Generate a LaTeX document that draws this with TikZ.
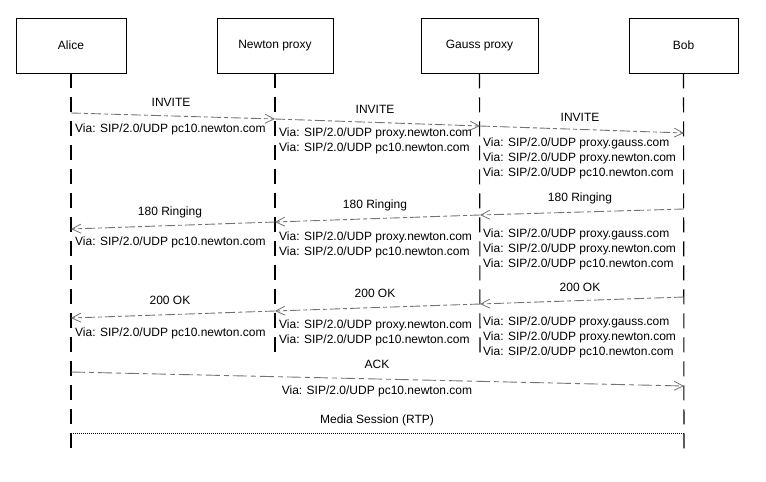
\documentclass[tikz,border=0pt]{standalone}
\usepackage{fontspec}
\setmainfont{Liberation Sans}
\usetikzlibrary{arrows.meta}
\begin{document}
\begin{tikzpicture}[x=1pt,y=-1pt,
  actor/.style={draw=black,line width=0.8pt,minimum width=110pt,minimum height=55pt,inner sep=0pt,font=\fontsize{12}{14}\selectfont},
  life/.style={draw=black,line width=1.1pt,dash pattern=on 15pt off 9pt},
  msg/.style={draw=black!55,line width=0.9pt,dash pattern=on 10pt off 3pt on 4pt off 3pt,-{Straight Barb[length=9pt,width=9pt,line width=0.8pt]}},
  lbl/.style={inner sep=0pt,font=\fontsize{12}{14}\selectfont},
  via/.style={inner sep=0pt,anchor=west,align=left,font=\fontsize{12}{15}\selectfont}
]
\useasboundingbox (0,0) rectangle (766,482);
% actors
\node[actor,minimum width=110pt] (A) at (71,45.5) {Alice};
\node[actor,minimum width=116pt] (N) at (275,45.5) {Newton proxy};
\node[actor,minimum width=117pt] (G) at (479.5,45.5) {Gauss proxy};
\node[actor,minimum width=109pt] (B) at (683.5,45.5) {Bob};
% lifeline ends
\coordinate (Ae) at (71,455);
\coordinate (Ne) at (275,352);
\coordinate (Ge) at (480,358);
\coordinate (Be) at (684,455);
\draw[life] (A.south) -- (Ae);
\draw[life] (N.south) -- (Ne);
\draw[life] (G.south) -- (Ge);
\draw[life] (B.south) -- (Be);
% INVITE
\coordinate (i0) at (71,113);
\coordinate (i1) at (275,119);
\coordinate (i2) at (480,126);
\coordinate (i3) at (684,133);
\draw[msg] (i0) -- (i1);
\draw[msg] (i1) -- (i2);
\draw[msg] (i2) -- (i3);
\node[lbl] (l1) at (171,102) {INVITE};
\node[lbl] (l2) at (375,109) {INVITE};
\node[lbl] (l3) at (580,117) {INVITE};
\node[via] (v1) at (75,129) {Via: SIP/2.0/UDP pc10.newton.com};
\node[via] (v2) at (279,141) {Via: SIP/2.0/UDP proxy.newton.com\\Via: SIP/2.0/UDP pc10.newton.com};
\node[via] (v3) at (483,158.5) {Via: SIP/2.0/UDP proxy.gauss.com\\Via: SIP/2.0/UDP proxy.newton.com\\Via: SIP/2.0/UDP pc10.newton.com};
% 180 Ringing
\coordinate (r3) at (684,209);
\coordinate (r2) at (480,215);
\coordinate (r1) at (275,222);
\coordinate (r0) at (71,229);
\draw[msg] (r3) -- (r2);
\draw[msg] (r2) -- (r1);
\draw[msg] (r1) -- (r0);
\node[lbl] (l4) at (170,212) {180 Ringing};
\node[lbl] (l5) at (375,205) {180 Ringing};
\node[lbl] (l6) at (580,198) {180 Ringing};
\node[via] (v4) at (75,242) {Via: SIP/2.0/UDP pc10.newton.com};
\node[via] (v5) at (279,244.5) {Via: SIP/2.0/UDP proxy.newton.com\\Via: SIP/2.0/UDP pc10.newton.com};
\node[via] (v6) at (483,249.5) {Via: SIP/2.0/UDP proxy.gauss.com\\Via: SIP/2.0/UDP proxy.newton.com\\Via: SIP/2.0/UDP pc10.newton.com};
% 200 OK
\coordinate (o3) at (684,297);
\coordinate (o2) at (480,304);
\coordinate (o1) at (275,311);
\coordinate (o0) at (71,318);
\draw[msg] (o3) -- (o2);
\draw[msg] (o2) -- (o1);
\draw[msg] (o1) -- (o0);
\node[lbl] (l7) at (170,300) {200 OK};
\node[lbl] (l8) at (375,293) {200 OK};
\node[lbl] (l9) at (580,287) {200 OK};
\node[via] (v7) at (75,333) {Via: SIP/2.0/UDP pc10.newton.com};
\node[via] (v8) at (279,332.5) {Via: SIP/2.0/UDP proxy.newton.com\\Via: SIP/2.0/UDP pc10.newton.com};
\node[via] (v9) at (483,337) {Via: SIP/2.0/UDP proxy.gauss.com\\Via: SIP/2.0/UDP proxy.newton.com\\Via: SIP/2.0/UDP pc10.newton.com};
% ACK
\coordinate (k0) at (71,372);
\coordinate (k1) at (684,386);
\draw[msg,dash pattern=on 14pt off 4pt on 5pt off 4pt] (k0) -- (k1);
\node[lbl] (l10) at (377,364) {ACK};
\node[lbl] (v10) at (377,391) {Via: SIP/2.0/UDP pc10.newton.com};
% Media session
\node[lbl] (l11) at (377,420) {Media Session (RTP)};
\coordinate (m0) at (71,433);
\coordinate (m1) at (684,433);
\draw[black,line width=0.9pt,dash pattern=on 1pt off 1pt] (m0) -- (m1);
\end{tikzpicture}
\end{document}
